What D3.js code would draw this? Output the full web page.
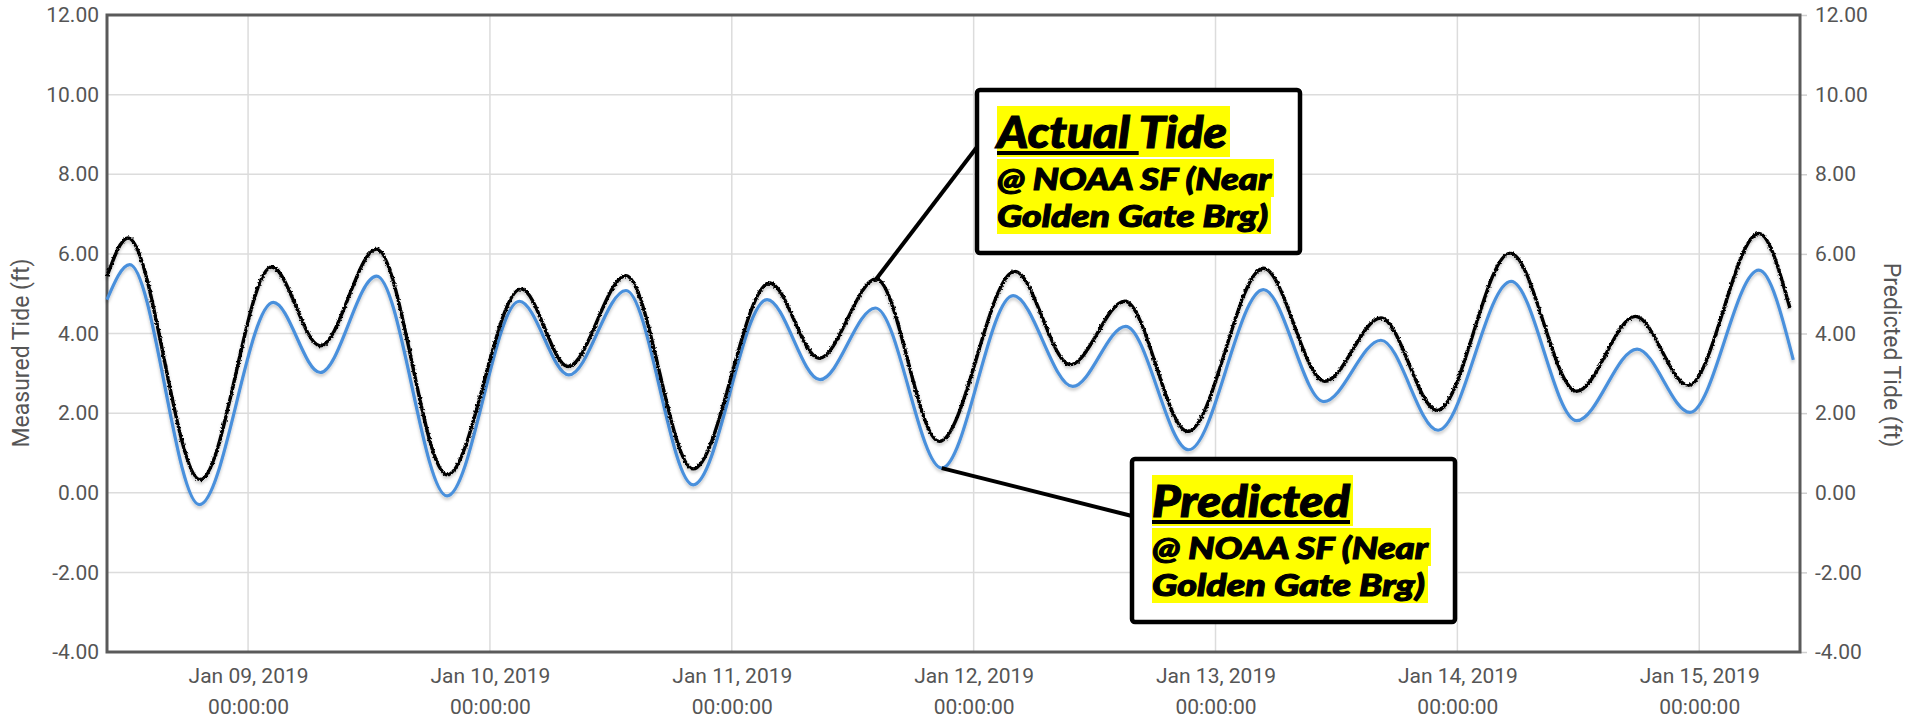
<!DOCTYPE html>
<html>
<head>
<meta charset="utf-8">
<script src="https://cdnjs.cloudflare.com/ajax/libs/d3/7.8.5/d3.min.js"></script>
<style>
  body { margin: 0; background: #fff; }
  .tick text { font-family: Roboto, sans-serif; font-size: 21px; fill: #555; }
  .axis-title { font-family: Roboto, sans-serif; font-size: 23px; fill: #555; }
  .note { font-family: Lato, sans-serif; font-weight: 900; font-style: italic; fill: #000; stroke: #000; stroke-width: 1.1; }
</style>
</head>
<body>
<div id="chart"></div>
<script>
// tide extremes (ft)
const predictedTimes = [
  '2019-01-08 10:00', '2019-01-08 12:15', '2019-01-08 19:10', '2019-01-09 02:30',
  '2019-01-09 07:10', '2019-01-09 12:45', '2019-01-09 19:45', '2019-01-10 02:55',
  '2019-01-10 07:50', '2019-01-10 13:30', '2019-01-10 20:10', '2019-01-11 03:30',
  '2019-01-11 08:45', '2019-01-11 14:15', '2019-01-11 20:50', '2019-01-12 03:55',
  '2019-01-12 09:50', '2019-01-12 15:05', '2019-01-12 21:20', '2019-01-13 04:45',
  '2019-01-13 10:45', '2019-01-13 16:25', '2019-01-13 22:05', '2019-01-14 05:20',
  '2019-01-14 11:50', '2019-01-14 17:50', '2019-01-14 23:05', '2019-01-15 05:55',
  '2019-01-15 09:20'
];
const predictedTide = [
  4.85, 5.73, -0.30, 4.78,
  3.02, 5.44, -0.08, 4.81,
  2.96, 5.08, 0.20, 4.85,
  2.84, 4.64, 0.62, 4.95,
  2.67, 4.18, 1.08, 5.10,
  2.29, 3.83, 1.57, 5.31,
  1.81, 3.61, 2.02, 5.59,
  3.34
];
const actualTimes = [
  '2019-01-08 10:00', '2019-01-08 12:05', '2019-01-08 19:15', '2019-01-09 02:20',
  '2019-01-09 07:10', '2019-01-09 12:45', '2019-01-09 19:45', '2019-01-10 03:05',
  '2019-01-10 07:45', '2019-01-10 13:30', '2019-01-10 20:10', '2019-01-11 03:45',
  '2019-01-11 08:40', '2019-01-11 14:20', '2019-01-11 20:35', '2019-01-12 04:05',
  '2019-01-12 09:35', '2019-01-12 15:00', '2019-01-12 21:15', '2019-01-13 04:45',
  '2019-01-13 10:50', '2019-01-13 16:25', '2019-01-13 22:00', '2019-01-14 05:15',
  '2019-01-14 11:50', '2019-01-14 17:40', '2019-01-14 22:55', '2019-01-15 05:55',
  '2019-01-15 09:00'
];
const actualTide = [
  5.44, 6.40, 0.33, 5.67,
  3.69, 6.12, 0.45, 5.12,
  3.17, 5.45, 0.60, 5.27,
  3.38, 5.37, 1.29, 5.56,
  3.22, 4.81, 1.54, 5.64,
  2.80, 4.39, 2.07, 6.02,
  2.55, 4.43, 2.70, 6.51,
  4.64
];
const yTicks = [-4, -2, 0, 2, 4, 6, 8, 10, 12];
const limitLevels = [10, -2];
const xDomain = ['2019-01-08 10:00', '2019-01-15 10:00'];

const width = 1919;
const height = 718;
const margin = { top: 15, right: 119, bottom: 66, left: 107 };
const innerW = width - margin.left - margin.right;
const innerH = height - margin.top - margin.bottom;

const parse = d3.timeParse('%Y-%m-%d %H:%M');
const predicted = predictedTimes.map((t, i) => ({ t: parse(t), v: predictedTide[i] }));
const actual = actualTimes.map((t, i) => ({ t: parse(t), v: actualTide[i] }));

const x = d3.scaleTime().domain(xDomain.map(parse)).range([0, innerW]);
const y = d3.scaleLinear().domain([-4, 12]).range([innerH, 0]);
const days = d3.timeDay.range(d3.timeDay.ceil(x.domain()[0]), x.domain()[1]);
const fmt = d => d.toFixed(2); // plain hyphen for negatives

const svg = d3.select('#chart').append('svg')
    .attr('width', width)
    .attr('height', height);

const defs = svg.append('defs');
defs.append('filter')
    .attr('id', 'shadow')
    .attr('x', '-2%').attr('y', '-20%').attr('width', '104%').attr('height', '140%')
  .append('feDropShadow')
    .attr('dx', 0).attr('dy', 2.5).attr('stdDeviation', 1.5)
    .attr('flood-color', '#000').attr('flood-opacity', 0.22);

const rough = defs.append('filter')
    .attr('id', 'rough')
    .attr('x', '-2%').attr('y', '-10%').attr('width', '104%').attr('height', '120%');
rough.append('feTurbulence')
    .attr('type', 'fractalNoise').attr('baseFrequency', 0.5)
    .attr('numOctaves', 1).attr('seed', 7).attr('result', 'noise');
rough.append('feDisplacementMap')
    .attr('in', 'SourceGraphic').attr('in2', 'noise').attr('scale', 3)
    .attr('xChannelSelector', 'R').attr('yChannelSelector', 'G').attr('result', 'jag');
rough.append('feDropShadow')
    .attr('in', 'jag')
    .attr('dx', 0).attr('dy', 2.5).attr('stdDeviation', 1.5)
    .attr('flood-color', '#000').attr('flood-opacity', 0.22);

const g = svg.append('g')
    .attr('transform', `translate(${margin.left}, ${margin.top})`);

// grid
g.append('g')
  .selectAll('line')
  .data(yTicks)
  .join('line')
    .attr('x1', 0).attr('x2', innerW)
    .attr('y1', d => y(d)).attr('y2', d => y(d))
    .attr('stroke', '#dcdcdc').attr('stroke-width', 1.5);

g.append('g')
  .selectAll('line')
  .data(days)
  .join('line')
    .attr('x1', d => x(d)).attr('x2', d => x(d))
    .attr('y1', 0).attr('y2', innerH)
    .attr('stroke', '#dcdcdc').attr('stroke-width', 1.5);

// axes
const yLeft = g.append('g')
    .call(d3.axisLeft(y).tickValues(yTicks).tickFormat(fmt).tickSize(0).tickPadding(8));
yLeft.select('.domain').remove();

const yRight = g.append('g')
    .attr('transform', `translate(${innerW}, 0)`)
    .call(d3.axisRight(y).tickValues(yTicks).tickFormat(fmt).tickSize(7).tickPadding(8));
yRight.select('.domain').remove();
yRight.selectAll('.tick line').attr('stroke', '#cfcfcf').attr('stroke-width', 1.5);

const xAxis = g.append('g')
    .attr('transform', `translate(0, ${innerH})`)
    .call(d3.axisBottom(x).tickValues(days).tickSize(0));
xAxis.select('.domain').remove();
xAxis.selectAll('.tick text')
    .attr('dy', null)
    .attr('y', 31)
    .text(null)
    .each(function each(d) {
      const t = d3.select(this);
      t.append('tspan').attr('x', 0).text(d3.timeFormat('%b %d, %Y')(d));
      t.append('tspan').attr('x', 0).attr('y', 62).text(d3.timeFormat('%H:%M:%S')(d));
    });

// frame
g.append('rect')
    .attr('width', innerW)
    .attr('height', innerH)
    .attr('fill', 'none')
    .attr('stroke', '#5a5a5a')
    .attr('stroke-width', 3);

// axis titles
svg.append('text')
    .attr('class', 'axis-title')
    .attr('text-anchor', 'middle')
    .attr('dy', '0.35em')
    .attr('transform', 'translate(21, 353) rotate(-90)')
    .text('Measured Tide (ft)');

svg.append('text')
    .attr('class', 'axis-title')
    .attr('text-anchor', 'middle')
    .attr('dy', '0.35em')
    .attr('transform', 'translate(1892, 355) rotate(90)')
    .text('Predicted Tide (ft)');

// limit lines
g.append('g')
  .selectAll('line')
  .data(limitLevels)
  .join('line')
    .attr('x1', 0).attr('x2', innerW)
    .attr('y1', d => y(d)).attr('y2', d => y(d))
    .attr('stroke', '#f39a2b')
    .attr('stroke-width', 4.5)
    .attr('filter', 'url(#shadow)');

// tide lines
const line = d3.line()
    .curve(d3.curveMonotoneX)
    .x(d => x(d.t))
    .y(d => y(d.v));

g.append('path')
    .datum(predicted)
    .attr('fill', 'none')
    .attr('stroke', '#4a90dc')
    .attr('stroke-width', 3.2)
    .attr('filter', 'url(#shadow)')
    .attr('d', line);

g.append('path')
    .datum(actual)
    .attr('fill', 'none')
    .attr('stroke', '#000')
    .attr('stroke-width', 3.4)
    .attr('stroke-linejoin', 'round')
    .attr('filter', 'url(#rough)')
    .attr('d', line);

// callouts
function callout(left, top, title, underlined, sub, widths, point) {
  const c = svg.append('g');
  const px = margin.left + x(point.t);
  const py = margin.top + y(point.v);

  c.append('line')
      .attr('x1', left).attr('y1', top + 57)
      .attr('x2', px).attr('y2', py)
      .attr('stroke', '#000').attr('stroke-width', 4);

  c.append('rect')
      .attr('x', left).attr('y', top)
      .attr('width', 323).attr('height', 163)
      .attr('rx', 3)
      .attr('fill', '#fff')
      .attr('stroke', '#000')
      .attr('stroke-width', 4.5);

  const hl = c.append('g');
  const lines = [
    { parts: title, size: 43, base: 58 },
    { parts: [sub[0]], size: 31, base: 100 },
    { parts: [sub[1]], size: 31, base: 137 },
  ];

  lines.forEach((l, i) => {
    const t = c.append('text')
        .attr('class', 'note')
        .attr('x', left + 20)
        .attr('y', top + l.base)
        .style('font-size', `${l.size}px`);
    l.parts.forEach(p => t.append('tspan').text(p));

    // stretch to the wide face of the original
    const natural = t.node().getComputedTextLength();
    const first = t.select('tspan').node().getComputedTextLength();
    t.attr('textLength', widths[i]).attr('lengthAdjust', 'spacingAndGlyphs');

    const bb = t.node().getBBox();
    hl.append('rect')
        .attr('x', left + 20)
        .attr('y', bb.y)
        .attr('width', widths[i] + 3)
        .attr('height', bb.height)
        .attr('fill', '#ffff00');

    if (i === 0) {
      c.append('rect')
          .attr('x', left + 20)
          .attr('y', top + l.base + 3)
          .attr('width', underlined ? first * widths[i] / natural : widths[i])
          .attr('height', 4)
          .attr('fill', '#000');
    }
  });
}

callout(977, 90, ['Actual ', 'Tide'], true,
  ['@ NOAA SF (Near', 'Golden Gate Brg)'], [230, 274, 271], actual[13]);
callout(1132, 459, ['Predicted'], false,
  ['@ NOAA SF (Near', 'Golden Gate Brg)'], [198, 276, 273], predicted[14]);
</script>
</body>
</html>
